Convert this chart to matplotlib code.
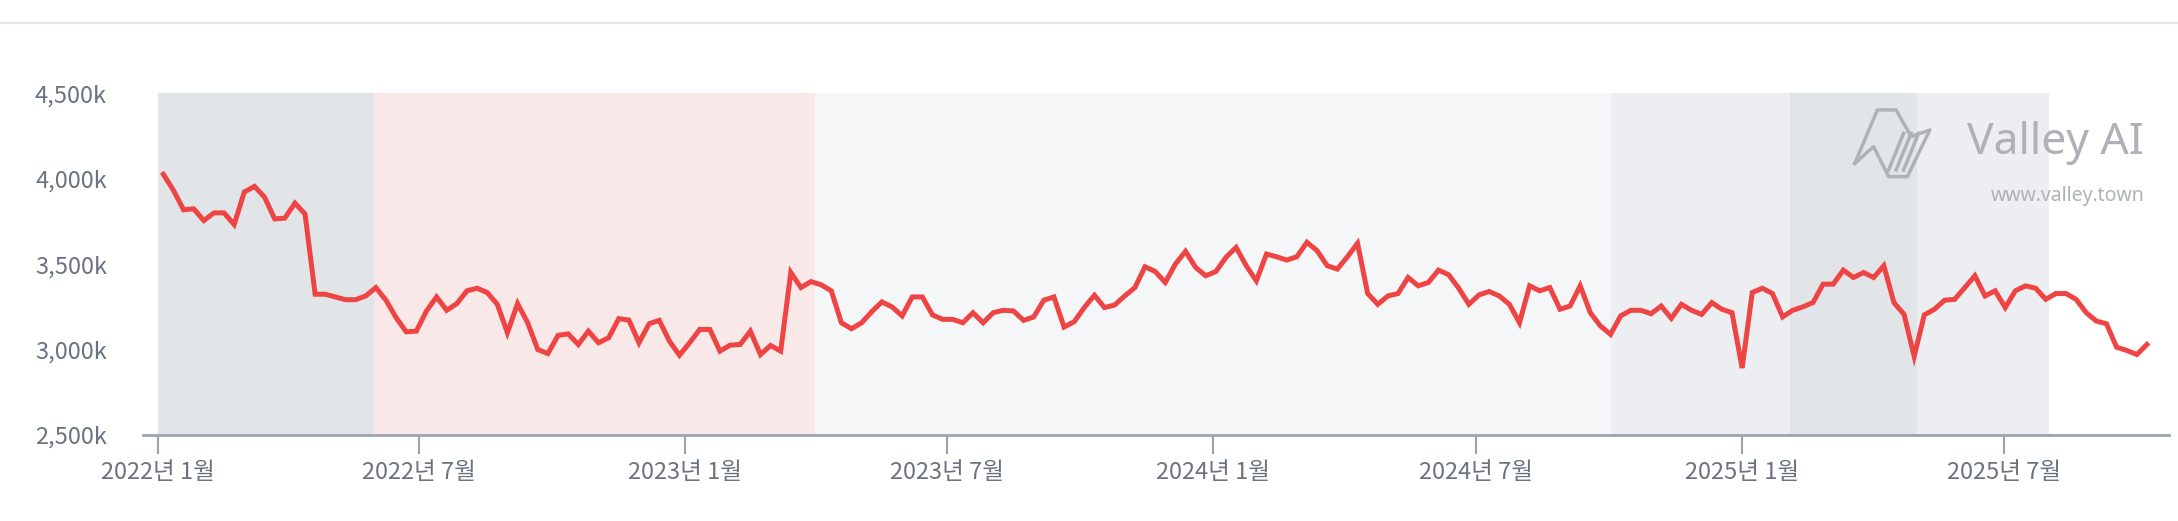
import matplotlib
matplotlib.use("Agg")
import matplotlib.pyplot as plt
import matplotlib.dates as mdates
import pandas as pd
import numpy as np

plt.rcParams['font.family'] = ['Noto Sans CJK KR', 'DejaVu Sans']

values = [4026,3932,3818,3824,3755,3800,3800,3732,3922,3955,3892,3765,3769,3857,3794,
 3324,3324,3308,3292,3292,3314,3363,3289,3187,3104,3108,3226,3308,3230,3269,3344,3359,
 3334,3265,3099,3269,3157,3000,2977,3083,3092,3030,3108,3040,3069,3181,3173,3040,3151,
 3171,3050,2967,3040,3118,3118,2991,3026,3030,3108,2971,3024,2991,3451,3363,3398,3379,
 3344,3157,3122,3157,3222,3279,3250,3197,3308,3308,3203,3177,3177,3157,3216,3157,3216,
 3230,3226,3171,3191,3289,3308,3132,3163,3246,3318,
 3246,3261,3314,3363,3485,3457,3393,3500,3575,3481,3432,3457,3540,3598,3491,3402,3559,
 3543,3524,3543,3628,3579,3491,3471,3543,3622,3328,3265,3314,3328,3422,3373,3393,3465,
 3438,3359,3265,3320,3340,3314,3265,3157,3373,3344,3363,3236,3255,3373,3216,3138,3089,
 3197,3230,3230,3210,3255,3183,3265,3230,3206,3275,3236,3216,2892,3334,3359,3328,3191,
 3230,3250,3275,3383,3383,3465,3422,3451,3422,3491,3275,3206,2961,3203,3236,3289,3294,
 3363,3432,3314,3344,3246,3344,3373,3359,3294,3328,3328,3294,3216,3167,3151,3014,2995,
 2971,3030]
start_date = "2022-01-05"
dates = pd.date_range(start_date, periods=len(values), freq="7D")

band_edges = ["2022-01-01","2022-05-31","2023-04-01","2024-10-02","2025-02-03","2025-05-02","2025-08-01"]
band_colors = ["#e2e5e8","#f8e8e8","#f5f6f8","#eceef1","#e2e5e8","#eceef1"]

yticks = [2500,3000,3500,4000,4500]
xtick_dates = ["2022-01-01","2022-07-01","2023-01-01","2023-07-01","2024-01-01","2024-07-01","2025-01-01","2025-07-01"]
xtick_labels = ["2022년 1월","2022년 7월","2023년 1월","2023년 7월","2024년 1월","2024년 7월","2025년 1월","2025년 7월"]

fig = plt.figure(figsize=(21.78,5.21), dpi=100)
ax = fig.add_axes([0.0657,0.165,0.930,0.656])
fig.add_artist(plt.Line2D([0,1],[0.955,0.955], color="#e5e7eb", lw=1.5, transform=fig.transFigure))

for i,c in enumerate(band_colors):
    ax.axvspan(pd.Timestamp(band_edges[i]), pd.Timestamp(band_edges[i+1]), ymin=0, ymax=1, color=c, lw=0, zorder=0)

ax.plot(dates, values, color="#ef4444", lw=3.6, zorder=3, solid_joinstyle="miter")

ax.set_ylim(2500,4500)
ax.set_xlim(pd.Timestamp("2021-12-22"), pd.Timestamp("2025-10-23"))
ax.set_yticks(yticks)
ax.set_yticklabels([f"{v:,}k" for v in yticks])
ax.set_xticks([pd.Timestamp(d) for d in xtick_dates])
ax.set_xticklabels(xtick_labels)
for s in ["top","right","left"]:
    ax.spines[s].set_visible(False)
ax.spines["bottom"].set_color("#9ca3af")
ax.spines["bottom"].set_linewidth(2)
ax.tick_params(axis="y", length=0, pad=26, labelsize=17, labelcolor="#6b7280")
ax.tick_params(axis="x", length=14, width=1.5, color="#9ca3af", pad=5, labelsize=17, labelcolor="#6b7280")

ax.text(0.988, 0.855, "Valley AI", transform=ax.transAxes, ha="right", va="center",
        fontsize=32, color="#aeb2b8", family=["Noto Sans","DejaVu Sans"], zorder=4)
ax.text(0.988, 0.70, "www.valley.town", transform=ax.transAxes, ha="right", va="center",
        fontsize=14, color="#aeb2b8", family=["Noto Sans","DejaVu Sans"], zorder=4)
# simple logo
lx = np.array([0.0, 0.3, 0.55, 0.75, 1.0, 0.7, 0.45, 0.25, 0.0])
ly = np.array([0.2, 1.0, 1.0, 0.6, 0.7, 0.0, 0.0, 0.45, 0.2])
x0, w = (1336-103)/1459, 54/1459
y0, h = (313-127)/246, 48/246
ax.plot(x0+lx*w, y0+ly*h, transform=ax.transAxes, color="#aeb2b8", lw=2.5, zorder=4)
for k in range(3):
    ax.plot([x0+(0.45+0.1*k)*w, x0+(0.65+0.1*k)*w], [y0+0.1*h, y0+0.65*h], transform=ax.transAxes, color="#aeb2b8", lw=2.5, zorder=4)

fig.savefig("out.png", dpi=100, facecolor="white")
